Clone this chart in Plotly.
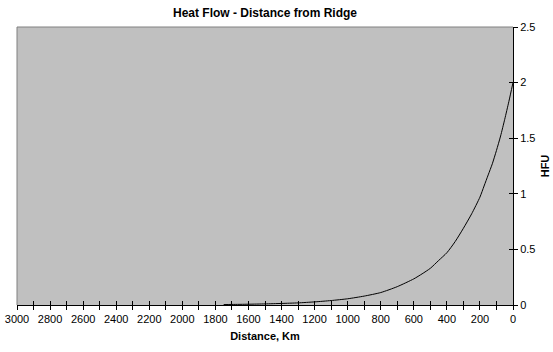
import plotly.graph_objects as go

# Data
distance_km = [0, 25, 50, 75, 100, 125, 150, 175, 200, 250, 300, 350, 400, 450,
               500, 550, 600, 700, 800, 900, 1000, 1100, 1200, 1300, 1400,
               1500, 1600, 1700, 1750]
heat_flow_hfu = [2.0, 1.83, 1.67, 1.52, 1.39, 1.27, 1.17, 1.07, 0.97, 0.82,
                 0.69, 0.57, 0.47, 0.4, 0.33, 0.28, 0.235, 0.165, 0.112, 0.08,
                 0.056, 0.04, 0.028, 0.019, 0.014, 0.01, 0.007, 0.005, 0.004]

x_tick_vals = list(range(0, 3001, 100))
x_tick_text = [str(v) if v % 200 == 0 else "" for v in x_tick_vals]
y_tick_vals = [0, 0.5, 1, 1.5, 2, 2.5]
y_tick_text = ["0", "0.5", "1", "1.5", "2", "2.5"]

FONT = "Arial, Liberation Sans, sans-serif"

fig = go.Figure()
fig.add_trace(go.Scatter(x=distance_km, y=heat_flow_hfu, mode="lines",
                         line=dict(color="black", width=1, shape="spline", smoothing=0.6),
                         showlegend=False, hoverinfo="skip"))
# invisible trace for overlay axes (inside ticks)
fig.add_trace(go.Scatter(x=[distance_km[0]], y=[heat_flow_hfu[0]], mode="markers",
                         marker=dict(opacity=0), xaxis="x2", yaxis="y2",
                         showlegend=False, hoverinfo="skip"))

fig.update_layout(
    width=553, height=352,
    margin=dict(l=17, r=40, t=27, b=47),
    paper_bgcolor="white",
    plot_bgcolor="#C0C0C0",
    font=dict(family=FONT, size=11, color="black"),
    title=dict(text="<b>Heat Flow - Distance from Ridge</b>",
               font=dict(family=FONT, size=12, color="black"),
               x=0.5, xref="paper", xanchor="center",
               y=1 - 12.5 / 352, yref="container", yanchor="middle"),
    xaxis=dict(range=[3000, 0], tickvals=x_tick_vals, ticktext=x_tick_text,
               ticks="outside", ticklen=4, tickcolor="black", tickwidth=1,
               showline=True, linecolor="black", linewidth=1,
               showgrid=False, zeroline=False, automargin=False,
               title=dict(text="<b>Distance, Km</b>", standoff=8,
                          font=dict(family=FONT, size=11))),
    xaxis2=dict(range=[3000, 0], overlaying="x", side="bottom",
                tickvals=x_tick_vals, ticks="inside", ticklen=4,
                tickcolor="black", showticklabels=False, showline=False,
                showgrid=False, zeroline=False, automargin=False),
    yaxis=dict(range=[0, 2.5], side="right", tickvals=y_tick_vals,
               ticktext=y_tick_text,
               ticks="outside", ticklen=4, tickcolor="black", tickwidth=1,
               showline=True, linecolor="black", linewidth=1,
               showgrid=False, zeroline=False, automargin=False,
               title=dict(text="<b>HFU</b>", standoff=6,
                          font=dict(family=FONT, size=11))),
    yaxis2=dict(range=[0, 2.5], overlaying="y", side="right",
                tickvals=y_tick_vals, ticks="inside", ticklen=4,
                tickcolor="black", showticklabels=False, showline=False,
                showgrid=False, zeroline=False, automargin=False),
    shapes=[
        dict(type="line", xref="paper", yref="paper", x0=0, x1=1, y0=1, y1=1,
             line=dict(color="#808080", width=1)),
        dict(type="line", xref="paper", yref="paper", x0=0, x1=0, y0=0, y1=1,
             line=dict(color="#808080", width=1)),
    ],
)

fig.write_html("out.html")
